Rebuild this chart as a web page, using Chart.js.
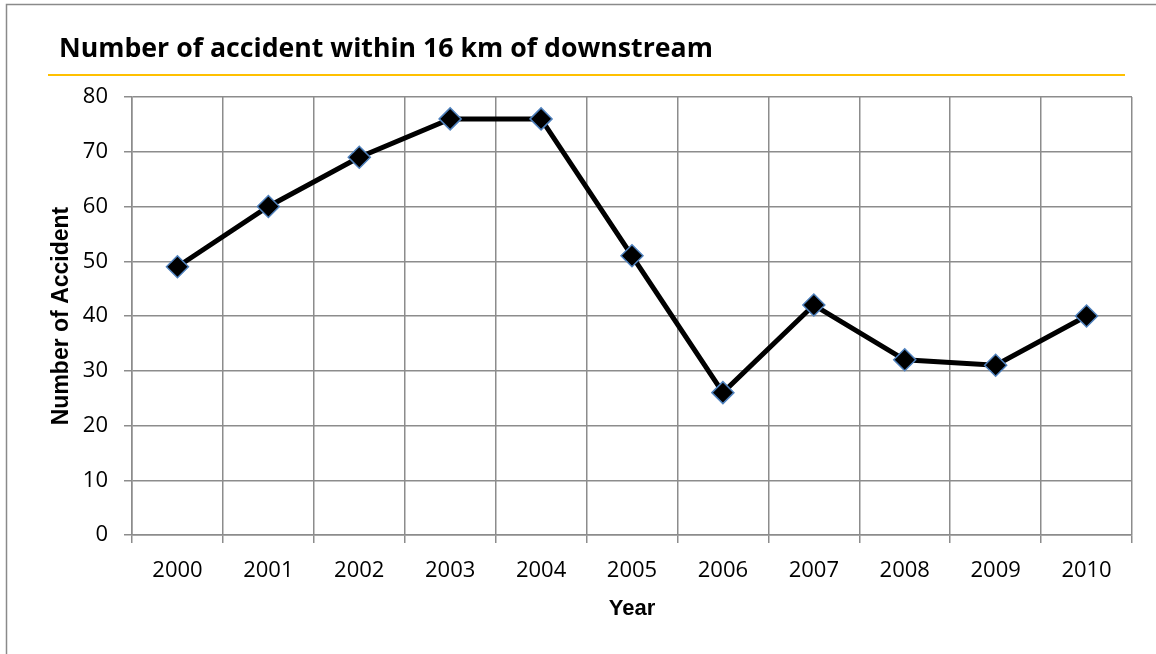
<!DOCTYPE html>
<html>
<head>
<meta charset="utf-8">
<script src="https://cdn.jsdelivr.net/npm/chart.js@4"></script>
<style>
  html, body { margin: 0; padding: 0; background: #fff; }
  #wrap { width: 1156px; height: 654px; }
</style>
</head>
<body>
<div id="wrap"><canvas id="chart" width="1156" height="654"></canvas></div>
<script>
const years = ["2000", "2001", "2002", "2003", "2004", "2005", "2006", "2007", "2008", "2009", "2010"];
const accidents = [49, 60, 69, 76, 76, 51, 26, 42, 32, 31, 40];
const chartTitle = "Number of accident within 16 km of downstream";
const xTitle = "Year";
const yTitle = "Number of Accident";

const fontFamily = "'Open Sans', 'Noto Sans', sans-serif";
const axisTitleFont = "'Liberation Sans', Arial, sans-serif";
const gridColor = "#8c8c8c";

// frame, heading and the gold rule under it
const decorations = {
  id: "decorations",
  beforeDraw(chart) {
    const ctx = chart.ctx;
    ctx.save();
    ctx.fillStyle = "#fff";
    ctx.fillRect(0, 0, chart.width, chart.height);
    ctx.strokeStyle = "#8a8a8a";
    ctx.lineWidth = 1.5;
    ctx.strokeRect(6.5, 4.5, chart.width + 20, chart.height + 20);
    ctx.restore();
  },
  afterDraw(chart) {
    const ctx = chart.ctx;
    ctx.save();
    ctx.font = "bold 26.7px " + fontFamily;
    ctx.fillStyle = "#000";
    ctx.textBaseline = "alphabetic";
    ctx.fillText(chartTitle, 59, 57);
    ctx.strokeStyle = "#ffc000";
    ctx.lineWidth = 2;
    ctx.beginPath();
    ctx.moveTo(48, 75);
    ctx.lineTo(1125, 75);
    ctx.stroke();
    ctx.restore();
  }
};

new Chart(document.getElementById("chart"), {
  type: "line",
  data: {
    labels: years,
    datasets: [{
      data: accidents,
      borderColor: "#000",
      borderWidth: 5,
      pointStyle: "rectRot",
      pointRadius: 11,
      pointHoverRadius: 11,
      pointBackgroundColor: "#000",
      pointBorderColor: "#4f81bd",
      pointBorderWidth: 1.5,
      tension: 0
    }]
  },
  plugins: [decorations],
  options: {
    responsive: false,
    animation: false,
    layout: { padding: { left: 0, top: 97, right: 24, bottom: 0 } },
    plugins: {
      legend: { display: false },
      tooltip: { enabled: false }
    },
    scales: {
      x: {
        offset: true,
        grid: { offset: true, color: gridColor, lineWidth: 1.5, tickLength: 8 },
        border: { color: gridColor, width: 1.5 },
        ticks: { color: "#000", padding: 15, font: { family: fontFamily, size: 22 } },
        title: {
          display: true, text: xTitle, color: "#000",
          font: { family: axisTitleFont, size: 22, weight: "bold" },
          padding: { top: 0, bottom: 32 }
        },
        afterFit(scale) { scale.height = 654 - 535; }
      },
      y: {
        min: 0, max: 80,
        ticks: { stepSize: 10, color: "#000", padding: 16, font: { family: fontFamily, size: 22 } },
        grid: { color: gridColor, lineWidth: 1.5, tickLength: 8 },
        border: { color: gridColor, width: 1.5 },
        title: {
          display: true, text: yTitle, color: "#000",
          font: { family: axisTitleFont, size: 23, weight: "bold" },
          padding: { top: 48, bottom: 0 }
        },
        afterFit(scale) { scale.width = 132; }
      }
    }
  }
});
</script>
</body>
</html>
